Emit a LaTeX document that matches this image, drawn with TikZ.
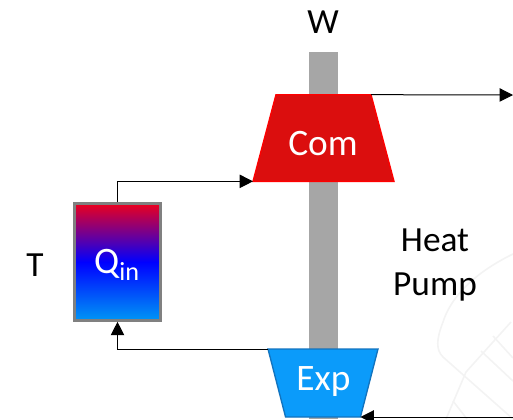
\documentclass[tikz,border=0pt]{standalone}
\usepackage{fontspec}
\setmainfont{Carlito}
\usepackage{xcolor}
\usetikzlibrary{shapes.geometric, arrows.meta, positioning}
\definecolor{shaftgray}{RGB}{166,166,166}
\definecolor{comred}{RGB}{219,14,14}
\definecolor{expblue}{RGB}{11,155,250}
\definecolor{expedge}{RGB}{18,115,190}
\definecolor{markgray}{RGB}{243,243,243}

\begin{document}
\begin{tikzpicture}[
    x=0.75pt, y=-0.75pt,
    label_style/.style={font=\fontsize{26.5}{30}\selectfont, align=center, inner sep=0pt},
    white_label/.style={label_style, font=\fontsize{28}{30}\selectfont, text=white},
    machine/.style={trapezium, trapezium stretches=true, outer sep=0pt, inner sep=1pt, line width=1pt},
    arrow/.style={-{Triangle[length=10pt, width=10pt]}, line width=0.75pt},
    mark_line/.style={draw=markgray, line width=1.2pt}
]
\useasboundingbox (0,0) rectangle (513,419);

% Faint background mark
\draw[mark_line] (513,254) .. controls (470,275) and (450,300) .. (443,322) .. controls (436,340) and (436,350) .. (443,357) -- (513,419);
\draw[mark_line] (511,322) -- (466,372) -- (446,419);
\draw[mark_line] (481,351) -- (513,381);
\draw[mark_line] (493,336) -- (513,358);
\draw[mark_line] (453,401) -- (467,419);

% Nodes
\node[fill=shaftgray, minimum width=21.75pt, minimum height=275.25pt, inner sep=0pt, outer sep=0pt] (shaft) at (323.5,235.5) {};
\node[machine, fill=comred, draw=red, minimum width=105.75pt, minimum height=65pt, trapezium left angle=76.4, trapezium right angle=76.4] (com) at (323.5,138) {};
\node[machine, fill=expblue, draw=expedge, minimum width=82.5pt, minimum height=51pt, trapezium left angle=103.2, trapezium right angle=103.2] (exp) at (323,383) {};
\node[rectangle, draw=gray, line width=2.2pt, top color={rgb,255:red,235;green,0;blue,30}, bottom color={rgb,255:red,0;green,150;blue,245}, middle color=blue, minimum width=64pt, minimum height=87.5pt, inner sep=0pt] (tank) at (117.5,262) {};

% Labels
\node[white_label] (com_text) at (323,144) {Com};
\node[white_label] (exp_text) at (323.5,382) {Exp};
\node[white_label] (q_text) at (117,265) {Q\textsubscript{in}};
\node[label_style] (w_text) at (323,22) {W};
\node[label_style] (t_text) at (35,265) {T};
\node[label_style] (heat_text) at (435,265) {Heat\\[3pt]Pump};

% Free ends
\coordinate (out_end) at (513,95);
\coordinate (in_end) at (513,417);

% Arrows
\draw[arrow] (com.top right corner) -- (out_end);
\draw[arrow] (tank.north) |- (com.bottom left corner);
\draw[arrow] (exp.top left corner) -| (tank.south);
\draw[arrow] (in_end) -- (exp.bottom right corner);

\end{tikzpicture}
\end{document}
